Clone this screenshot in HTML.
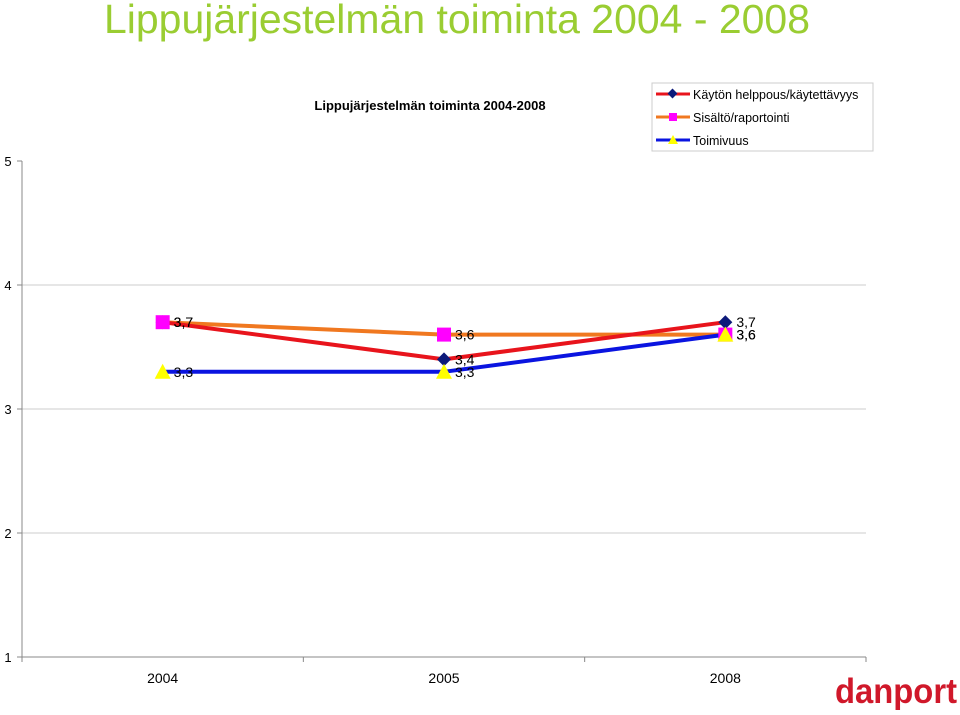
<!DOCTYPE html>
<html><head><meta charset="utf-8"><style>
body{margin:0;width:960px;height:710px;background:#fff;overflow:hidden;font-family:"Liberation Sans",sans-serif}
</style></head><body>
<svg width="960" height="710" xmlns="http://www.w3.org/2000/svg" font-family="Liberation Sans, sans-serif">
<text x="104" y="33" font-size="41" fill="#9acd32" textLength="706" lengthAdjust="spacingAndGlyphs">Lippujärjestelmän toiminta 2004 - 2008</text>
<text x="430" y="110" font-size="13" font-weight="bold" text-anchor="middle" fill="#000">Lippujärjestelmän toiminta 2004-2008</text>
<g id="grid"></g><g id="series"></g><g id="labels"></g>
<g>
<rect x="652" y="83" width="221" height="68" fill="#fff" stroke="#ccc"/>
<line x1="656" y1="94" x2="690" y2="94" stroke="#e8141c" stroke-width="3"/><rect x="669" y="90" width="7" height="7" fill="#0d1a7a" transform="rotate(45 672.5 93.5)"/>
<text x="693" y="99" font-size="12.5">Käytön helppous/käytettävyys</text>
<line x1="656" y1="117" x2="690" y2="117" stroke="#f07820" stroke-width="3"/><rect x="669" y="113" width="8" height="8" fill="#ff00ff"/>
<text x="693" y="122" font-size="12.5">Sisältö/raportointi</text>
<line x1="656" y1="140" x2="690" y2="140" stroke="#0a14e0" stroke-width="3"/><polygon points="673,135 678,144 668,144" fill="#ffff00"/>
<text x="693" y="145" font-size="12.5">Toimivuus</text>
</g>
<text x="835" y="703" font-size="35" font-weight="bold" fill="#d0182a" textLength="122" lengthAdjust="spacingAndGlyphs">danport</text>
<script>
const categories=["2004","2005","2008"];
const kaytto=[3.7,3.4,3.7];
const sisalto=[3.7,3.6,3.6];
const toimivuus=[3.3,3.3,3.6];
const yTicks=[1,2,3,4,5];
const L=22,R=866,T=161,B=657;
const ns="http://www.w3.org/2000/svg";
const y=v=>B-(v-1)*(B-T)/4;
const x=i=>L+(i+0.5)*(R-L)/categories.length;
function mk(t,a,p){const e=document.createElementNS(ns,t);for(const k in a)e.setAttribute(k,a[k]);document.getElementById(p).appendChild(e);return e;}
const g='grid';
yTicks.forEach(v=>{
 if(v<5){const l=mk('line',{x1:L,x2:R,y1:y(v),y2:y(v),stroke:v==1?'#888':'#ccc'},g);
 
 }
 mk('line',{x1:L-5,x2:L,y1:y(v),y2:y(v),stroke:'#888'},g);
 const t=mk('text',{x:8,y:y(v)+5,'font-size':13,'text-anchor':'middle'},g);t.textContent=v;
 
 
});
mk('line',{x1:L,x2:L,y1:T,y2:B,stroke:'#888'},g);
for(let i=0;i<=categories.length;i++)mk('line',{x1:L+i*(R-L)/3,x2:L+i*(R-L)/3,y1:B,y2:B+5,stroke:'#888'},g);
categories.forEach((c,i)=>{const t=mk('text',{x:x(i),y:683,'font-size':14,'text-anchor':'middle'},g);t.textContent=c;
 
 });
const S=[{n:'sisalto',d:sisalto,c:'#f07820',m:'sq'},{n:'kaytto',d:kaytto,c:'#e8141c',m:'dia'},{n:'toimivuus',d:toimivuus,c:'#0a14e0',m:'tri'}];
S.forEach(s=>{const p=mk('polyline',{points:s.d.map((v,i)=>x(i)+','+y(v)).join(' '),fill:'none',stroke:s.c,'stroke-width':4},'series');
 
 });
[S[1],S[0],S[2]].forEach(s=>s.d.forEach((v,i)=>{const cx=x(i),cy=y(v);let e;
 if(s.m=='sq')e=mk('rect',{x:cx-7,y:cy-7,width:14,height:14,fill:'#ff00ff'},'series');
 else if(s.m=='dia')e=mk('polygon',{points:`${cx},${cy-7} ${cx+7},${cy} ${cx},${cy+7} ${cx-7},${cy}`,fill:'#0d1a7a'},'series');
 else e=mk('polygon',{points:`${cx},${cy-8} ${cx+8},${cy+7} ${cx-8},${cy+7}`,fill:'#ffff00'},'series');
 
 
 const t=mk('text',{x:cx+11,y:cy+5,'font-size':14},'labels');t.textContent=String(v).replace('.',',');
 
 
}));
</script>
</svg>
</body></html>
